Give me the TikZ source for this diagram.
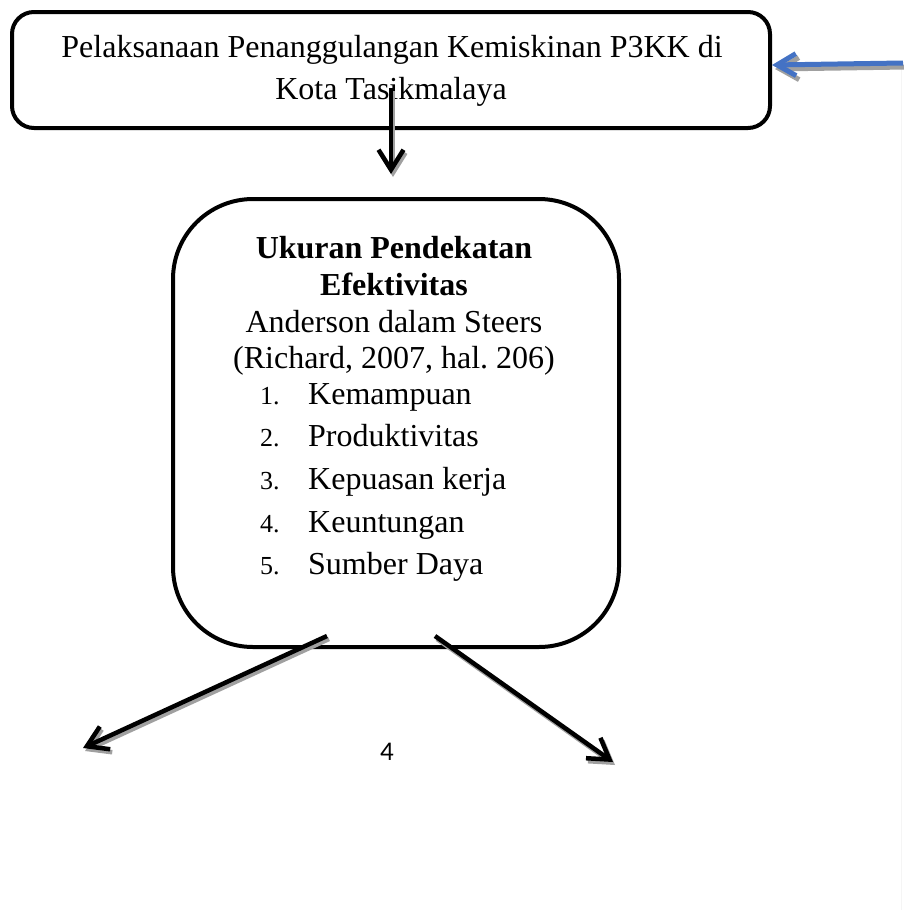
\documentclass[tikz,border=0pt]{standalone}
\usepackage{fontspec}
\setmainfont{Liberation Serif}
\newfontfamily\numfont{Carlito}
\usetikzlibrary{arrows.meta}
\definecolor{blueline}{RGB}{68,114,196}
\definecolor{shadowgray}{RGB}{160,160,160}
\frenchspacing
\tikzset{
  boxframe/.style={draw=black, line width=4pt, inner sep=0pt},
  txt/.style={anchor=base, inner sep=0pt, font=\fontsize{32}{36}\selectfont},
  btxt/.style={txt, font=\fontsize{32}{36}\selectfont\bfseries},
  numtxt/.style={anchor=base west, inner sep=0pt, font=\fontsize{26}{30}\selectfont},
  itemtxt/.style={anchor=base west, inner sep=0pt, font=\fontsize{32}{36}\selectfont},
  arr/.style={line width=4.5pt, -{Straight Barb[length=20pt,width=25pt,line width=4.5pt]}},
  arrshadow/.style={arr, draw=shadowgray},
  bluearr/.style={line width=5pt, -{Straight Barb[length=19pt,width=22pt,line width=5pt]}},
}
\begin{document}
\begin{tikzpicture}[x=1pt,y=-1pt]
\useasboundingbox[fill=white] (0,0) rectangle (903,910);
% faint vertical line at right
\draw[draw=black!4, line width=1pt] (901,67) -- (901,910);
% top box
\node[boxframe, rounded corners=22pt, minimum width=758pt, minimum height=116pt] (top) at (391,70) {};
\node[txt] (t1) at (392,57) {Pelaksanaan Penanggulangan Kemiskinan P3KK di};
\node[txt] (t2) at (391,99) {Kota Tasikmalaya};
% middle box
\node[boxframe, rounded corners=80pt, minimum width=446pt, minimum height=448pt] (mid) at (396,423) {};
\node[btxt] (m1) at (394,258) {Ukuran Pendekatan};
\node[btxt] (m2) at (394,295) {Efektivitas};
\node[txt] (m3) at (394,332) {Anderson dalam Steers};
\node[txt] (m4) at (394,368) {(Richard, 2007, hal. 206)};
\node[numtxt] (n1) at (260,404) {1.};
\node[numtxt] (n2) at (260,446) {2.};
\node[numtxt] (n3) at (260,489) {3.};
\node[numtxt] (n4) at (260,532) {4.};
\node[numtxt] (n5) at (260,574) {5.};
\node[itemtxt] (i1) at (308,404) {Kemampuan};
\node[itemtxt] (i2) at (308,446) {Produktivitas};
\node[itemtxt] (i3) at (308,489) {Kepuasan kerja};
\node[itemtxt] (i4) at (308,532) {Keuntungan};
\node[itemtxt] (i5) at (308,574) {Sumber Daya};
% page number
\node[anchor=base, inner sep=0pt, font=\numfont\fontsize{27}{30}\selectfont] (pg) at (387,760) {4};
% coordinates for arrows
\coordinate (dA) at (391,88);
\coordinate (dB) at (391,174);
\coordinate (lA) at (327,636);
\coordinate (lB) at (83,748);
\coordinate (rA) at (435,636);
\coordinate (rB) at (613,762);
\coordinate (bA) at (903,63);
\coordinate (bB) at (772,65);
% shadows
\draw[arrshadow] ([shift={(2,3)}]dA) -- ([shift={(2,3)}]dB);
\draw[arrshadow] ([shift={(2,3)}]lA) -- ([shift={(2,3)}]lB);
\draw[arrshadow] ([shift={(2,3)}]rA) -- ([shift={(2,3)}]rB);
\draw[bluearr, draw=shadowgray] ([shift={(3,4)}]bA) -- ([shift={(3,4)}]bB);
% arrows
\draw[arr] (dA) -- (dB);
\draw[arr] (lA) -- (lB);
\draw[arr] (rA) -- (rB);
\draw[bluearr, draw=blueline] (bA) -- (bB);
\end{tikzpicture}
\end{document}
